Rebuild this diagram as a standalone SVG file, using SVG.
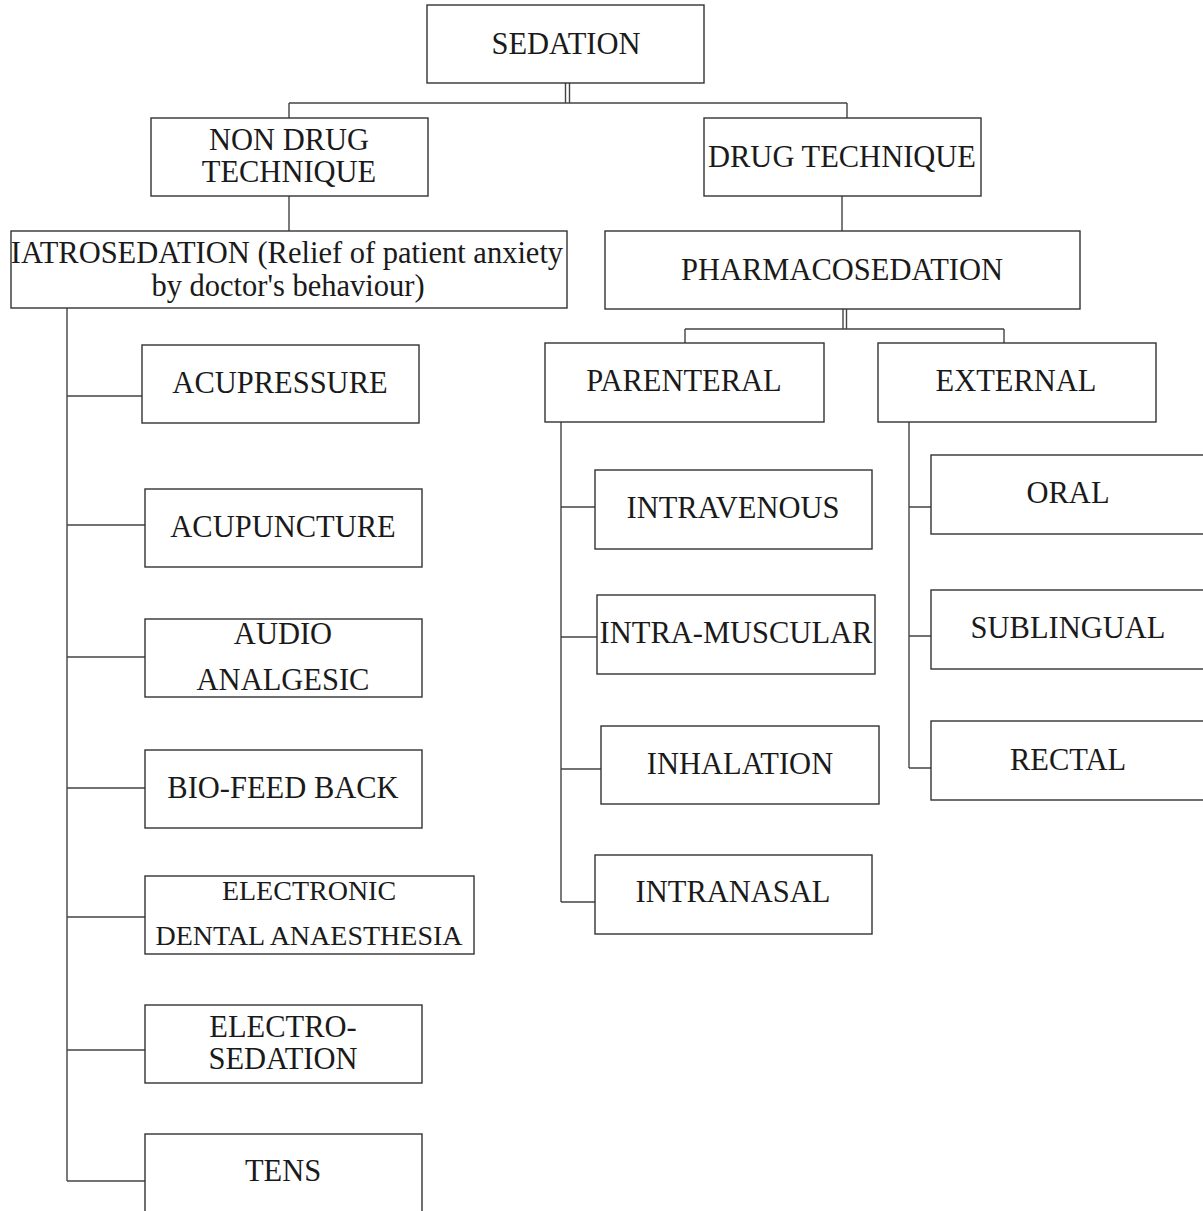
<svg xmlns="http://www.w3.org/2000/svg" width="1203" height="1211" viewBox="0 0 1203 1211">
<style>
.box{fill:#fff;stroke:#333;stroke-width:1.4}
.t{font-family:"Liberation Serif","Times New Roman",serif;font-size:30.5px;fill:#1a1a1a;text-anchor:middle}
.s{font-size:28px}
.c{fill:none;stroke:#444;stroke-width:1.4}
</style>
<rect width="1203" height="1211" fill="#fff"/>
<g id="connectors">
<path class="c" d="M565.5 83V103M569.5 83V103M289 103H847M289 103V118M847 103V118"/>
<path class="c" d="M289 196V231M842 196V231"/>
<path class="c" d="M843 309V329M846.5 309V329M685 329H1004M685 329V343M1004 329V343"/>
<path class="c" d="M67 308V1181M67 396H142M67 525H145M67 657H145M67 788H145M67 917H145M67 1050H145M67 1181H145"/>
<path class="c" d="M561 422V902M561 507H595M561 637H597M561 769H601M561 902H595"/>
<path class="c" d="M909 422V768M909 507H931M909 636H931M909 768H931"/>
</g>
<g id="sedation"><rect class="box" x="427" y="5" width="277" height="78"/><text class="t" x="566" y="54">SEDATION</text></g>
<g id="non-drug"><rect class="box" x="151" y="118" width="277" height="78"/><text class="t" x="289" y="150">NON DRUG</text><text class="t" x="289" y="182">TECHNIQUE</text></g>
<g id="drug"><rect class="box" x="704" y="118" width="277" height="78"/><text class="t" x="842" y="167">DRUG TECHNIQUE</text></g>
<g id="iatrosedation"><rect class="box" x="11" y="231" width="556" height="77"/><text class="t" x="287" y="263">IATROSEDATION (Relief of patient anxiety</text><text class="t" x="288" y="296">by doctor's behaviour)</text></g>
<g id="pharmacosedation"><rect class="box" x="605" y="231" width="475" height="78"/><text class="t" x="842" y="280">PHARMACOSEDATION</text></g>
<g id="parenteral"><rect class="box" x="545" y="343" width="279" height="79"/><text class="t" x="684" y="391">PARENTERAL</text></g>
<g id="external"><rect class="box" x="878" y="343" width="278" height="79"/><text class="t" x="1016" y="391">EXTERNAL</text></g>
<g id="acupressure"><rect class="box" x="142" y="345" width="277" height="78"/><text class="t" x="280" y="393">ACUPRESSURE</text></g>
<g id="acupuncture"><rect class="box" x="145" y="489" width="277" height="78"/><text class="t" x="283" y="537">ACUPUNCTURE</text></g>
<g id="audio"><rect class="box" x="145" y="619" width="277" height="78"/><text class="t" x="283" y="644">AUDIO</text><text class="t" x="283" y="690">ANALGESIC</text></g>
<g id="biofeedback"><rect class="box" x="145" y="750" width="277" height="78"/><text class="t" x="283" y="798">BIO-FEED BACK</text></g>
<g id="electronic"><rect class="box" x="145" y="876" width="329" height="78"/><text class="t s" x="309" y="900">ELECTRONIC</text><text class="t s" x="309" y="945">DENTAL ANAESTHESIA</text></g>
<g id="electrosedation"><rect class="box" x="145" y="1005" width="277" height="78"/><text class="t" x="283" y="1037">ELECTRO-</text><text class="t" x="283" y="1069">SEDATION</text></g>
<g id="tens"><rect class="box" x="145" y="1134" width="277" height="80"/><text class="t" x="283" y="1181">TENS</text></g>
<g id="intravenous"><rect class="box" x="595" y="470" width="277" height="79"/><text class="t" x="733" y="518">INTRAVENOUS</text></g>
<g id="intramuscular"><rect class="box" x="597" y="595" width="278" height="79"/><text class="t" x="736" y="643">INTRA-MUSCULAR</text></g>
<g id="inhalation"><rect class="box" x="601" y="726" width="278" height="78"/><text class="t" x="740" y="774">INHALATION</text></g>
<g id="intranasal"><rect class="box" x="595" y="855" width="277" height="79"/><text class="t" x="733" y="902">INTRANASAL</text></g>
<g id="oral"><rect class="box" x="931" y="455" width="274" height="79"/><text class="t" x="1068" y="503">ORAL</text></g>
<g id="sublingual"><rect class="box" x="931" y="590" width="274" height="79"/><text class="t" x="1068" y="638">SUBLINGUAL</text></g>
<g id="rectal"><rect class="box" x="931" y="721" width="274" height="79"/><text class="t" x="1068" y="770">RECTAL</text></g>
</svg>
